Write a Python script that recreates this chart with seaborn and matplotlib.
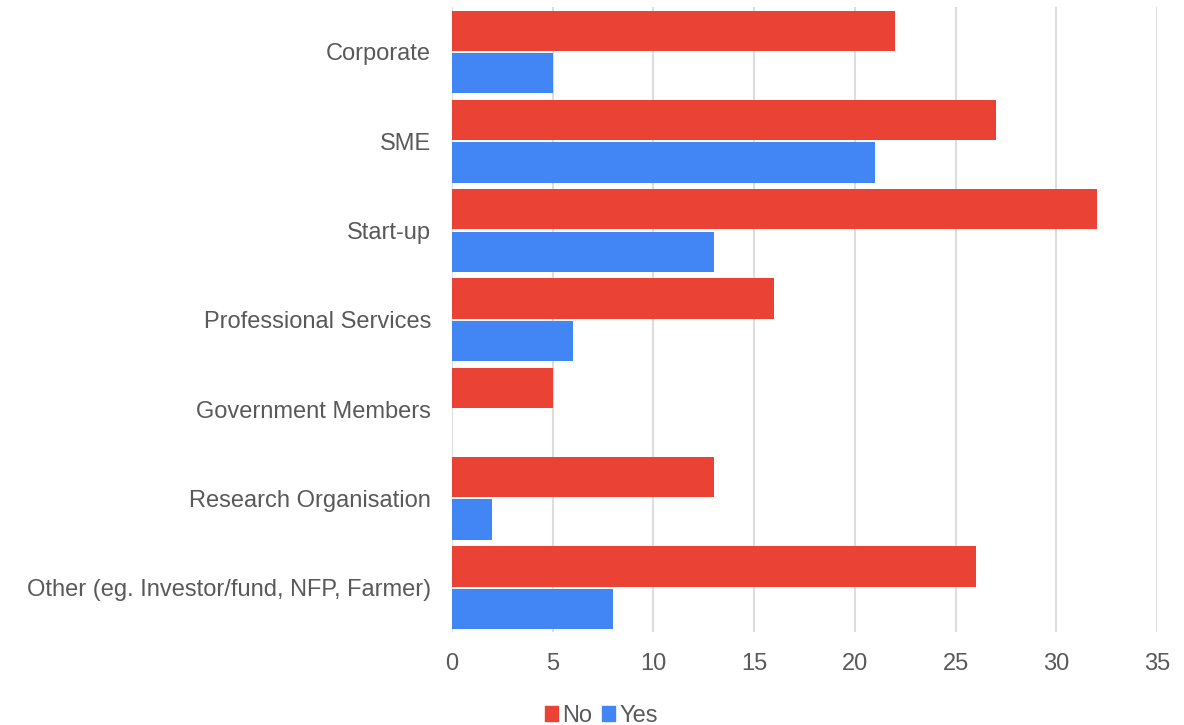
import pandas as pd
import matplotlib.pyplot as plt
import seaborn as sns

categories = ["Corporate", "SME", "Start-up", "Professional Services",
              "Government Members", "Research Organisation",
              "Other (eg. Investor/fund, NFP, Farmer)"]
no_counts = [22, 27, 32, 16, 5, 13, 26]
yes_counts = [5, 21, 13, 6, 0, 2, 8]
x_ticks = [0, 5, 10, 15, 20, 25, 30, 35]

df = pd.DataFrame({
    "category": categories * 2,
    "answer": ["No"] * len(categories) + ["Yes"] * len(categories),
    "count": no_counts + yes_counts,
})

sns.set_theme(style="white")
plt.rcParams["font.family"] = ["Liberation Sans", "DejaVu Sans"]

fig = plt.figure(figsize=(11.84, 7.25), dpi=100)
ax = fig.add_axes([0.3818, 0.128, 0.9772 - 0.3818, 0.99 - 0.128])

sns.barplot(data=df, x="count", y="category", hue="answer",
            palette={"No": "#EA4335", "Yes": "#4285F4"}, saturation=1,
            orient="h", width=0.95, gap=0.05, linewidth=0, ax=ax, legend=False)

ax.set_xlim(0, 35)
ax.set_xticks(x_ticks)
ax.set_ylim(6.5, -0.5)
ax.grid(axis="x", color="#dddddd", linewidth=1.5)
ax.set_axisbelow(True)
for s in ax.spines.values():
    s.set_visible(False)
ax.set_xlabel("")
ax.set_ylabel("")
ax.tick_params(axis="both", labelsize=17, labelcolor="#595959", length=0)
ax.tick_params(axis="x", pad=15)
ax.tick_params(axis="y", pad=15)
for lbl in ax.get_yticklabels():
    lbl.set_va("center_baseline")

handles = [plt.Rectangle((0, 0), 1, 1, color="#EA4335"),
           plt.Rectangle((0, 0), 1, 1, color="#4285F4")]
fig.legend(handles, ["No", "Yes"], loc="lower center", bbox_to_anchor=(0.508, -0.032),
           ncol=2, frameon=False, fontsize=17, handlelength=0.55, handleheight=0.55,
           handletextpad=0.2, columnspacing=0.4, labelcolor="#595959")

fig.savefig("out.png", dpi=100)
